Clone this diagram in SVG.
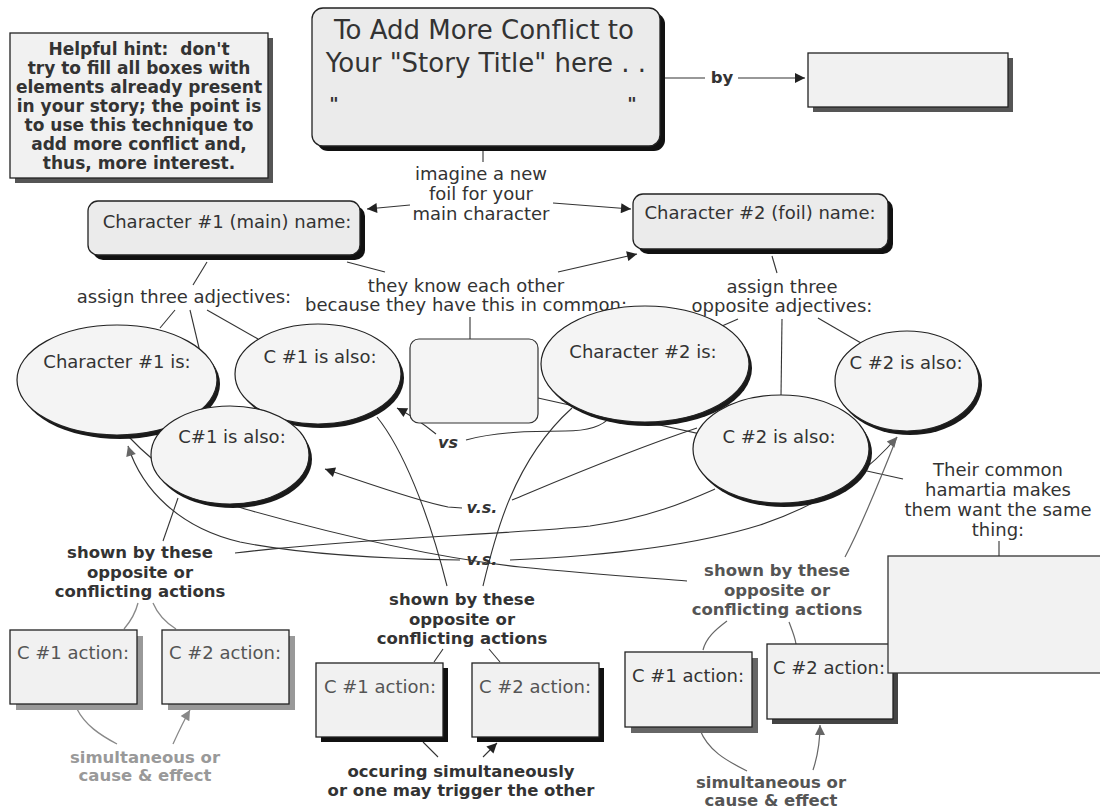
<svg xmlns="http://www.w3.org/2000/svg" width="1100" height="808" viewBox="0 0 1100 808">
<defs>
<style>
.t{font-family:"DejaVu Sans",Verdana,sans-serif;font-size:18px;fill:#333;text-anchor:middle}
.b{font-weight:bold;font-size:16.5px}
.h{font-weight:bold;font-size:17px}
.ti{font-size:26px}
.a{fill:#555}
.vs{font-weight:bold;font-style:italic;font-size:16px}
.g1{fill:#999}
.g2{fill:#555}
.ln{fill:none;stroke:#333;stroke-width:1.1}
.lg{fill:none;stroke:#888;stroke-width:1.3}
.ld{fill:none;stroke:#666;stroke-width:1.2}
.box{fill:#f1f1f1;stroke:#222;stroke-width:1.3}
.rbox{fill:#ebebeb;stroke:#222;stroke-width:1.3}
.ell{fill:#f4f4f4;stroke:#222;stroke-width:1.2}
.esh{fill:#1a1a1a}
</style>
<marker id="ab" viewBox="0 0 10 10" refX="10" refY="5" markerWidth="13" markerHeight="10" markerUnits="userSpaceOnUse" orient="auto"><path d="M0,0 L10,5 L0,10 z" fill="#222"/></marker>
<marker id="ag" viewBox="0 0 10 10" refX="10" refY="5" markerWidth="13" markerHeight="10" markerUnits="userSpaceOnUse" orient="auto"><path d="M0,0 L10,5 L0,10 z" fill="#888"/></marker>
<marker id="ad" viewBox="0 0 10 10" refX="10" refY="5" markerWidth="13" markerHeight="10" markerUnits="userSpaceOnUse" orient="auto"><path d="M0,0 L10,5 L0,10 z" fill="#666"/></marker>
</defs>
<rect width="1100" height="808" fill="#fff"/>

<g id="connectors">
<path class="ln" d="M660,78 L705,78"/>
<path class="ln" d="M738,78 L805,78" marker-end="url(#ab)"/>
<path class="ln" d="M483,147 L483,162"/>
<path class="ln" d="M410,205 L367,209" marker-end="url(#ab)"/>
<path class="ln" d="M553,203 L631,209" marker-end="url(#ab)"/>
<path class="ln" d="M347,262 L385,272"/>
<path class="ln" d="M558,272 L637,254" marker-end="url(#ab)"/>
<path class="ln" d="M470,317 L470,339"/>
<path class="ln" d="M207,262 L193,285"/>
<path class="ln" d="M175,310 L160,328"/>
<path class="ln" d="M190,310 L200,352"/>
<path class="ln" d="M207,310 L258,339"/>
<path class="ln" d="M772,256 L777,273"/>
<path class="ln" d="M738,319 L722,326"/>
<path class="ln" d="M782,319 L781,396"/>
<path class="ln" d="M818,318 L861,343"/>
<path class="ln" d="M538,398 L903,479"/>
<path class="ln" d="M999,541 L999,557"/>
<path class="ln" d="M436,434 C425,425 412,416 397,408" marker-end="url(#ab)"/>
<path class="ln" d="M466,440 C495,432 530,431 565,431 C590,431 603,426 610,417"/>
<path class="ln" d="M462,508 L448,507 C420,502 370,484 325,469" marker-end="url(#ab)"/>
<path class="ln" d="M512,500 C560,480 625,452 697,428"/>
<path class="ln" d="M235,553 C360,538 500,535 590,526 C650,518 690,500 715,489"/>
<path class="ln" d="M510,560 C580,557 680,550 760,525 C820,505 865,475 897,437" marker-end="url(#ad)"/>
<path class="ln" d="M128,436 C160,470 200,496 245,509 C330,533 430,557 520,567 C590,574 650,578 687,581"/>
<path class="ld" d="M845,557 C862,525 884,470 897,437"/>
<path class="ln" d="M460,560 C400,559 310,556 240,542 C180,528 142,490 128,446" marker-end="url(#ad)"/>
<path class="ln" d="M377,417 C402,448 428,510 447,586"/>
<path class="ln" d="M483,586 C494,540 512,462 572,408"/>
<path class="ln" d="M178,498 L163,541"/>
<path class="lg" d="M138,603 C135,615 130,622 124,629"/>
<path class="lg" d="M153,603 C158,615 168,624 176,629"/>
<path class="lg" d="M77,709 C85,725 100,735 117,744"/>
<path class="lg" d="M173,744 C178,733 183,722 190,710" marker-end="url(#ag)"/>
<path class="ln" d="M443,649 L434,662"/>
<path class="ln" d="M489,649 L500,662"/>
<path class="ln" d="M423,742 L438,757"/>
<path class="ln" d="M483,757 L497,743" marker-end="url(#ab)"/>
<path class="ld" d="M727,621 C715,630 706,638 703,650"/>
<path class="ld" d="M789,622 C792,630 795,637 796,644"/>
<path class="ld" d="M700,730 C708,750 725,760 747,771"/>
<path class="ld" d="M813,770 C818,755 820,742 820,725" marker-end="url(#ad)"/>
</g>

<g id="hint">
<rect x="15" y="38" width="258" height="145" fill="#555"/>
<rect class="box" x="10" y="33" width="258" height="145"/>
<text class="t h" x="139" y="55" xml:space="preserve">Helpful hint:  don't</text>
<text class="t h" x="139" y="74">try to fill all boxes with</text>
<text class="t h" x="139" y="93">elements already present</text>
<text class="t h" x="139" y="112">in your story; the point is</text>
<text class="t h" x="139" y="131">to use this technique to</text>
<text class="t h" x="139" y="150">add more conflict and,</text>
<text class="t h" x="139" y="169">thus, more interest.</text>
</g>

<g id="title">
<rect x="317" y="13" width="348" height="138" rx="11" fill="#111"/>
<rect class="rbox" x="312" y="8" width="348" height="138" rx="11"/>
<text class="t ti" x="484" y="39">To Add More Conflict to</text>
<text class="t ti" x="486" y="72">Your "Story Title" here . .</text>
<text class="t" x="334" y="110" font-size="18" font-weight="bold">"</text>
<text class="t" x="632" y="110" font-size="18" font-weight="bold">"</text>
</g>

<g id="by-label">
<text class="t b" x="722" y="83">by</text>
</g>

<g id="by-box">
<rect x="813" y="58" width="200" height="54" fill="#555"/>
<rect class="box" x="808" y="53" width="200" height="54"/>
</g>

<g id="imagine">
<text class="t" x="481" y="180">imagine a new</text>
<text class="t" x="481" y="200">foil for your</text>
<text class="t" x="481" y="220">main character</text>
</g>

<g id="char1">
<rect x="93" y="206" width="272" height="54" rx="10" fill="#111"/>
<rect class="rbox" x="88" y="201" width="272" height="54" rx="10"/>
<text class="t" x="227" y="228">Character #1 (main) name:</text>
</g>

<g id="char2">
<rect x="638" y="199" width="255" height="55" rx="10" fill="#111"/>
<rect class="rbox" x="633" y="194" width="255" height="55" rx="10"/>
<text class="t" x="760" y="219">Character #2 (foil) name:</text>
</g>

<g id="know">
<text class="t" x="466" y="292">they know each other</text>
<text class="t" x="466" y="311">because they have this in common:</text>
</g>

<g id="assign1">
<text class="t" x="184" y="303">assign three adjectives:</text>
</g>

<g id="assign2">
<text class="t" x="782" y="293">assign three</text>
<text class="t" x="782" y="312">opposite adjectives:</text>
</g>

<g id="common">
<rect x="410" y="339" width="128" height="84" rx="9" fill="#f4f4f4" stroke="#333" stroke-width="1.2"/>
</g>

<g id="ell-c1">
<ellipse class="esh" cx="120" cy="384" rx="100" ry="55"/>
<ellipse class="ell" cx="117" cy="380" rx="100" ry="55"/>
<text class="t" x="117" y="368">Character #1 is:</text>
</g>

<g id="ell-c1b">
<ellipse class="esh" cx="321" cy="378" rx="83" ry="50"/>
<ellipse class="ell" cx="318" cy="374" rx="83" ry="50"/>
<text class="t" x="320" y="363">C #1 is also:</text>
</g>

<g id="ell-c1c">
<ellipse class="esh" cx="233" cy="459" rx="79" ry="49"/>
<ellipse class="ell" cx="230" cy="455" rx="79" ry="49"/>
<text class="t" x="232" y="443">C#1 is also:</text>
</g>

<g id="ell-c2">
<ellipse class="esh" cx="648" cy="368" rx="104" ry="58"/>
<ellipse class="ell" cx="645" cy="364" rx="104" ry="58"/>
<text class="t" x="643" y="358">Character #2 is:</text>
</g>

<g id="ell-c2b">
<ellipse class="esh" cx="784" cy="453" rx="88" ry="54"/>
<ellipse class="ell" cx="781" cy="449" rx="88" ry="54"/>
<text class="t" x="779" y="443">C #2 is also:</text>
</g>

<g id="ell-c2c">
<ellipse class="esh" cx="910" cy="385" rx="72" ry="50"/>
<ellipse class="ell" cx="907" cy="381" rx="72" ry="50"/>
<text class="t" x="906" y="369">C #2 is also:</text>
</g>

<g id="vs-labels">
<text class="t vs" x="448" y="448">vs</text>
<text class="t vs" x="482" y="513">v.s.</text>
<text class="t vs" x="482" y="565">v.s.</text>
</g>

<g id="hamartia-label">
<text class="t" x="998" y="476">Their common</text>
<text class="t" x="998" y="496">hamartia makes</text>
<text class="t" x="998" y="516">them want the same</text>
<text class="t" x="998" y="536">thing:</text>
</g>

<g id="shown-left">
<text class="t b" x="140" y="558" fill="#444">shown by these</text>
<text class="t b" x="140" y="578">opposite or</text>
<text class="t b" x="140" y="597">conflicting actions</text>
</g>

<g id="left-act1">
<rect x="16" y="636" width="127" height="74" fill="#999"/>
<rect class="box" x="10" y="630" width="127" height="74"/>
<text class="t a" x="73" y="659">C #1 action:</text>
</g>

<g id="left-act2">
<rect x="168" y="636" width="127" height="74" fill="#999"/>
<rect class="box" x="162" y="630" width="127" height="74"/>
<text class="t a" x="225" y="659">C #2 action:</text>
</g>

<g id="left-sim">
<text class="t b g1" x="145" y="763">simultaneous or</text>
<text class="t b g1" x="145" y="781">cause &amp; effect</text>
</g>

<g id="shown-mid">
<text class="t b" x="462" y="605">shown by these</text>
<text class="t b" x="462" y="625">opposite or</text>
<text class="t b" x="462" y="644">conflicting actions</text>
</g>

<g id="mid-act1">
<rect x="321" y="668" width="127" height="74" fill="#111"/>
<rect class="box" x="316" y="663" width="127" height="74"/>
<text class="t a" x="380" y="693">C #1 action:</text>
</g>

<g id="mid-act2">
<rect x="477" y="668" width="127" height="74" fill="#111"/>
<rect class="box" x="472" y="663" width="127" height="74"/>
<text class="t a" x="535" y="693">C #2 action:</text>
</g>

<g id="mid-occur">
<text class="t b" x="461" y="777">occuring simultaneously</text>
<text class="t b" x="461" y="796">or one may trigger the other</text>
</g>

<g id="shown-right">
<text class="t b g2" x="777" y="576">shown by these</text>
<text class="t b g2" x="777" y="596">opposite or</text>
<text class="t b g2" x="777" y="615">conflicting actions</text>
</g>

<g id="right-act1">
<rect x="631" y="658" width="127" height="75" fill="#666"/>
<rect class="box" x="625" y="652" width="127" height="75"/>
<text class="t" x="688" y="682" fill="#666">C #1 action:</text>
</g>

<g id="right-act2">
<rect x="772" y="649" width="126" height="75" fill="#444"/>
<rect class="box" x="767" y="644" width="126" height="75"/>
<text class="t" x="829" y="674" fill="#666">C #2 action:</text>
</g>

<g id="hamartia-box">
<rect x="888" y="556" width="222" height="117" fill="#f2f2f2" stroke="#333" stroke-width="1.3"/>
</g>

<g id="right-sim">
<text class="t b g2" x="771" y="788">simultaneous or</text>
<text class="t b g2" x="771" y="806">cause &amp; effect</text>
</g>
</svg>
